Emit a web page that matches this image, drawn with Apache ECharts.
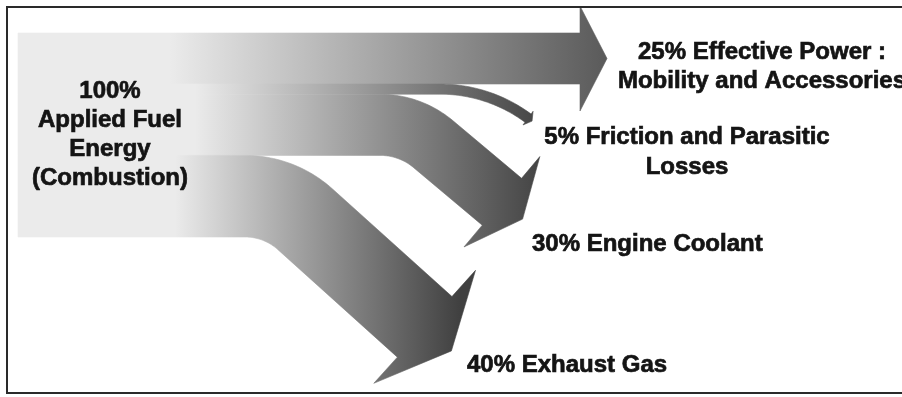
<!DOCTYPE html>
<html>
<head>
<meta charset="utf-8">
<script src="https://cdn.jsdelivr.net/npm/echarts@6/dist/echarts.min.js"></script>
<style>
  html, body { margin: 0; padding: 0; background: #fff; }
  #chart { width: 902px; height: 397px; }
</style>
</head>
<body>
<div id="chart"></div>
<script>
// Energy balance of the applied fuel energy (shares in %)
const sourceName = 'Applied Fuel\nEnergy\n(Combustion)';
const flowNames = [
  'Effective Power :\nMobility and Accessories',
  'Friction and Parasitic\nLosses',
  'Engine Coolant',
  'Exhaust Gas'
];
const flowShares = [25, 5, 30, 40];

// How each band leaves the trunk: bend start, bend radius, final heading,
// straight run after the bend, arrowhead size and shading range.
const routes = [
  { bendX: 580, radius: 0,    angle: 0,    length: 0,     headHalf: 52.5, headLen: 27, gradFrom: 170, gradTo: 607, dark: '#5a5a5a' },
  { bendX: 440, radius: 148,  angle: 36.5, length: 0,     headHalf: 8.5,  headLen: 5,  gradFrom: 195, gradTo: 540, dark: '#444444' },
  { bendX: 380, radius: 83,   angle: 40,   length: 89.5,  headHalf: 59,   headLen: 27, gradFrom: 195, gradTo: 540, dark: '#444444' },
  { bendX: 245, radius: 90,   angle: 42,   length: 160.7, headHalf: 76,   headLen: 36, gradFrom: 175, gradTo: 460, dark: '#404040' }
];
const labelPlaces = [
  { x: 762, y: 66.5, align: 'center', lineHeight: 29 },
  { x: 687, y: 152,  align: 'center', lineHeight: 30 },
  { x: 532, y: 244,  align: 'left',   lineHeight: 29 },
  { x: 467, y: 365,  align: 'left',   lineHeight: 29 }
];

const FONT = 'bold 24px "Liberation Sans", Arial, sans-serif';
const INK = '#141414';
const total = flowShares.reduce((s, v) => s + v, 0);

// stack the shares down the trunk
let acc = 0;
const flowData = flowShares.map((v, i) => {
  const item = [0, acc, v, i];
  acc += v;
  return item;
});

function renderFlow(params, api) {
  const i = api.value(3);
  const r = routes[i];
  const share = api.value(2);
  const pTop = api.coord([0, api.value(1)]);
  const pBot = api.coord([0, api.value(1) + share]);
  const half = (pBot[1] - pTop[1]) / 2;
  const cy = (pTop[1] + pBot[1]) / 2;
  const x0 = pTop[0];
  const a = r.angle * Math.PI / 180;

  // centreline samples: [x, y, heading]
  const pts = [[x0, cy, 0], [r.bendX, cy, 0]];
  if (r.radius > 0) {
    const n = 30;
    for (let k = 1; k <= n; k++) {
      const t = a * k / n;
      pts.push([r.bendX + r.radius * Math.sin(t), cy + r.radius * (1 - Math.cos(t)), t]);
    }
  }
  let last = pts[pts.length - 1];
  if (r.length > 0) {
    pts.push([last[0] + r.length * Math.cos(a), last[1] + r.length * Math.sin(a), a]);
  }
  last = pts[pts.length - 1];

  const off = (p, d) => [p[0] - Math.sin(p[2]) * d, p[1] + Math.cos(p[2]) * d];
  const upper = pts.map(p => off(p, -half));
  const lower = pts.map(p => off(p, half)).reverse();
  const tip = [last[0] + Math.cos(a) * r.headLen, last[1] + Math.sin(a) * r.headLen];
  const poly = upper.concat([off(last, -r.headHalf), tip, off(last, r.headHalf)], lower);

  const grad = new echarts.graphic.LinearGradient(r.gradFrom, 0, r.gradTo, 0, [
    { offset: 0, color: '#ebebeb' },
    { offset: 1, color: r.dark }
  ], true);

  const lp = labelPlaces[i];
  return {
    type: 'group',
    children: [
      {
        type: 'polygon',
        shape: { points: poly },
        style: { fill: grad, stroke: grad, lineWidth: 0.6 }
      },
      {
        type: 'text',
        z2: 10,
        style: {
          text: share + '% ' + flowNames[i],
          x: lp.x,
          y: lp.y,
          align: lp.align,
          verticalAlign: 'middle',
          lineHeight: lp.lineHeight,
          font: FONT,
          fill: INK,
          stroke: INK,
          lineWidth: 0.7
        }
      }
    ]
  };
}

const chart = echarts.init(document.getElementById('chart'), null, { renderer: 'canvas' });
chart.setOption({
  animation: false,
  backgroundColor: '#ffffff',
  grid: { left: 18, right: 0, top: 33, height: 204 },
  xAxis: { type: 'value', min: 0, max: 884, show: false },
  yAxis: { type: 'value', min: 0, max: total, inverse: true, show: false },
  graphic: [
    {
      type: 'rect',
      z: 0,
      shape: { x: 18, y: 33, width: 212, height: 204 },
      style: { fill: '#ebebeb' }
    },
    {
      type: 'text',
      z: 100,
      style: {
        text: total + '%\n' + sourceName,
        x: 110,
        y: 135,
        align: 'center',
        verticalAlign: 'middle',
        lineHeight: 29,
        font: FONT,
        fill: INK,
        stroke: INK,
        lineWidth: 0.7
      }
    },
    {
      type: 'rect',
      z: 100,
      shape: { x: 7, y: 7, width: 910, height: 386 },
      style: { fill: null, stroke: '#2a2a2a', lineWidth: 2 }
    }
  ],
  series: [
    {
      type: 'custom',
      coordinateSystem: 'cartesian2d',
      clip: false,
      encode: { x: 0, y: 1 },
      renderItem: renderFlow,
      data: flowData
    }
  ]
});
</script>
</body>
</html>
